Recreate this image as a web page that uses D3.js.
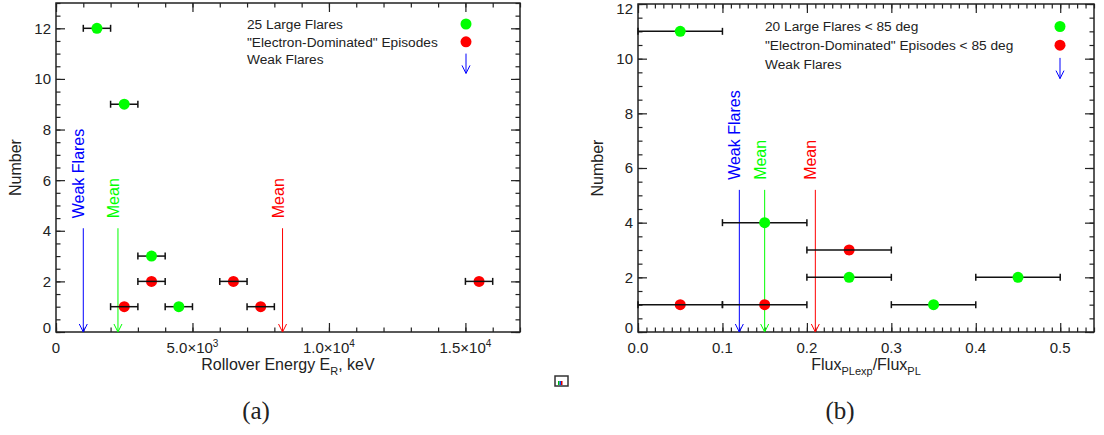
<!DOCTYPE html>
<html>
<head>
<meta charset="utf-8">
<title>Rollover energy and flux ratio</title>
<script src="https://d3js.org/d3.v7.min.js"></script>
<style>
	body { margin: 0; background: #fff; }
	text { font-family: "Liberation Sans", Arial, sans-serif; fill: #222; }
	.cap { font-family: "Liberation Serif", "DejaVu Serif", serif; }
</style>
</head>
<body>
<svg id="fig" width="1104" height="435"></svg>
<script>
// (a) rollover energy, keV
var aLargeE = [1500, 2500, 3500, 4500];
var aLargeN = [12, 9, 3, 1];
var aElecE = [2500, 3500, 6500, 7500, 15500];
var aElecN = [1, 2, 2, 1, 2];
var aHalfBin = 500;
var aMarkNames = ["Weak Flares", "Mean", "Mean"];
var aMarkVals = [1000, 2270, 8300];
var aMarkTop = 4.1;
var aXTicks = [0, 5000, 10000, 15000];
var aXTickLabels = [["0", ""], ["5.0\u00d710", "3"], ["1.0\u00d710", "4"], ["1.5\u00d710", "4"]];
var aYTicks = [0, 2, 4, 6, 8, 10, 12];
var aLegend = ["25 Large Flares", "\"Electron-Dominated\" Episodes", "Weak Flares"];

// (b) Flux_PLexp / Flux_PL
var bLargeR = [0.05, 0.15, 0.25, 0.35, 0.45];
var bLargeN = [11, 4, 2, 1, 2];
var bElecR = [0.05, 0.15, 0.25];
var bElecN = [1, 1, 3];
var bHalfBin = 0.05;
var bMarkNames = ["Weak Flares", "Mean", "Mean"];
var bMarkVals = [0.12, 0.15, 0.21];
var bMarkTop = 5.2;
var bXTicks = [0, 0.1, 0.2, 0.3, 0.4, 0.5];
var bXTickLabels = [["0.0", ""], ["0.1", ""], ["0.2", ""], ["0.3", ""], ["0.4", ""], ["0.5", ""]];
var bYTicks = [0, 2, 4, 6, 8, 10, 12];
var bLegend = ["20 Large Flares < 85 deg", "\"Electron-Dominated\" Episodes < 85 deg", "Weak Flares"];

var GREEN = "#00ff00", RED = "#ff0000", BLUE = "#0000ff";
var markColors = [BLUE, GREEN, RED];

var svg = d3.select("#fig");

function steps(max, step) {
	var n = Math.round(max / step);
	return d3.range(n + 1).map(function (i) { return +(i * step).toFixed(6); });
}

function drawPanel(p) {
	var x = d3.scaleLinear().domain([0, p.xMax]).range([p.left, p.right]);
	var y = d3.scaleLinear().domain([0, p.yMax]).range([p.bottom, p.top]);
	var g = svg.append("g");

	// inward ticks on all four sides
	function ticks(axis, tr) {
		g.append("g").attr("transform", tr).call(axis)
			.call(function (s) { s.select(".domain").remove(); s.selectAll("text").remove(); })
			.selectAll("line").attr("stroke", "#222").attr("stroke-width", 1.2);
	}
	var xMinor = steps(p.xMax, p.xMinorStep), yMinor = steps(p.yMax, 0.5);
	[[xMinor, 4.5], [p.xTicks, 9]].forEach(function (t) {
		ticks(d3.axisBottom(x).tickValues(t[0]).tickSize(-t[1]), "translate(0," + p.bottom + ")");
		ticks(d3.axisTop(x).tickValues(t[0]).tickSize(-t[1]), "translate(0," + p.top + ")");
	});
	[[yMinor, 4.5], [p.yTicks, 9]].forEach(function (t) {
		ticks(d3.axisLeft(y).tickValues(t[0]).tickSize(-t[1]), "translate(" + p.left + ",0)");
		ticks(d3.axisRight(y).tickValues(t[0]).tickSize(-t[1]), "translate(" + p.right + ",0)");
	});
	g.append("rect").attr("x", p.left).attr("y", p.top)
		.attr("width", p.right - p.left).attr("height", p.bottom - p.top)
		.attr("fill", "none").attr("stroke", "#222").attr("stroke-width", 1.5);

	// tick labels
	p.xTicks.forEach(function (v, i) {
		var t = g.append("text").attr("x", x(v)).attr("y", p.bottom + 21)
			.attr("text-anchor", "middle").style("font-size", "15px");
		t.append("tspan").text(p.xTickLabels[i][0]);
		if (p.xTickLabels[i][1]) t.append("tspan").attr("dy", -6).style("font-size", "10px").text(p.xTickLabels[i][1]);
	});
	p.yTicks.forEach(function (v) {
		var yy = Math.max(p.top + 4.5, Math.min(p.bottom - 4, y(v)));
		g.append("text").attr("x", p.left - 5).attr("y", yy).attr("dy", "0.36em")
			.attr("text-anchor", "end").style("font-size", "15px").text(v);
	});

	// axis titles
	g.append("text").attr("transform", "translate(" + (p.left - 35) + "," + ((p.top + p.bottom) / 2) + ") rotate(-90)")
		.attr("text-anchor", "middle").style("font-size", "16px").text("Number");
	var xt = g.append("text").attr("x", (p.left + p.right) / 2).attr("y", p.bottom + 38)
		.attr("text-anchor", "middle").style("font-size", "16px");
	p.xTitle.forEach(function (part) {
		var s = xt.append("tspan").text(part[0]);
		if (part[1] === "sub") s.attr("dy", 5).style("font-size", "11px");
		if (part[1] === "up") s.attr("dy", -5);
	});

	// marker arrows (means, weak flares)
	p.markVals.forEach(function (v, i) {
		var xx = x(v), y0 = y(0), y1 = y(p.markTop);
		g.append("line").attr("x1", xx).attr("x2", xx).attr("y1", y1).attr("y2", y0)
			.attr("stroke", markColors[i]).attr("stroke-width", 1);
		g.append("path").attr("d", "M" + (xx - 4) + "," + (y0 - 8) + "L" + xx + "," + y0 + "L" + (xx + 4) + "," + (y0 - 8))
			.attr("fill", "none").attr("stroke", markColors[i]).attr("stroke-width", 1);
		g.append("text").attr("transform", "translate(" + (xx + 1) + "," + (y1 - 10) + ") rotate(-90)")
			.style("font-size", "16px").style("fill", markColors[i]).text(p.markNames[i]);
	});

	// points with bin-width bars
	function errBar(v, n) {
		var yy = y(n), x0 = x(Math.max(0, v - p.half)), x1 = x(v + p.half);
		g.append("line").attr("x1", x0).attr("x2", x1).attr("y1", yy).attr("y2", yy)
			.attr("stroke", "#111").attr("stroke-width", 1.5);
		[x0, x1].forEach(function (c) {
			g.append("line").attr("x1", c).attr("x2", c).attr("y1", yy - 3.5).attr("y2", yy + 3.5)
				.attr("stroke", "#111").attr("stroke-width", 1.5);
		});
	}
	function dot(v, n, col) {
		g.append("circle").attr("cx", x(v)).attr("cy", y(n)).attr("r", 5.5).attr("fill", col);
	}
	p.largeX.forEach(function (v, i) { errBar(v, p.largeN[i]); dot(v, p.largeN[i], GREEN); });
	p.elecX.forEach(function (v, i) { dot(v, p.elecN[i], RED); errBar(v, p.elecN[i]); });

	// legend
	var L = p.legend;
	L.text.forEach(function (s, i) {
		g.append("text").attr("x", L.x).attr("y", L.y + i * L.dy).attr("dy", "0.35em")
			.style("font-size", "13.7px").text(s);
	});
	g.append("circle").attr("cx", L.sx).attr("cy", L.y).attr("r", 5.5).attr("fill", GREEN);
	g.append("circle").attr("cx", L.sx).attr("cy", L.y + L.dy).attr("r", 5.5).attr("fill", RED);
	var ay0 = L.y + 2 * L.dy - 6, ay1 = ay0 + L.dy + 2;
	g.append("line").attr("x1", L.sx).attr("x2", L.sx).attr("y1", ay0).attr("y2", ay1)
		.attr("stroke", BLUE).attr("stroke-width", 1);
	g.append("path").attr("d", "M" + (L.sx - 4) + "," + (ay1 - 8) + "L" + L.sx + "," + ay1 + "L" + (L.sx + 4) + "," + (ay1 - 8))
		.attr("fill", "none").attr("stroke", BLUE).attr("stroke-width", 1);

	svg.append("text").attr("class", "cap").attr("x", p.capX).attr("y", 419)
		.attr("text-anchor", "middle").style("font-size", "25px").text(p.caption);
}

drawPanel({
	left: 56, right: 520, top: 3, bottom: 332, xMax: 17000, yMax: 13, xMinorStep: 1000,
	xTicks: aXTicks, xTickLabels: aXTickLabels, yTicks: aYTicks,
	xTitle: [["Rollover Energy E"], ["R", "sub"], [", keV", "up"]],
	markVals: aMarkVals, markNames: aMarkNames, markTop: aMarkTop,
	largeX: aLargeE, largeN: aLargeN, elecX: aElecE, elecN: aElecN, half: aHalfBin,
	legend: { text: aLegend, x: 247, y: 24, dy: 17.8, sx: 466 },
	caption: "(a)", capX: 256
});

drawPanel({
	left: 638, right: 1094, top: 4, bottom: 332, xMax: 0.54, yMax: 12, xMinorStep: 0.01,
	xTicks: bXTicks, xTickLabels: bXTickLabels, yTicks: bYTicks,
	xTitle: [["Flux"], ["PLexp", "sub"], ["/Flux", "up"], ["PL", "sub"]],
	markVals: bMarkVals, markNames: bMarkNames, markTop: bMarkTop,
	largeX: bLargeR, largeN: bLargeN, elecX: bElecR, elecN: bElecN, half: bHalfBin,
	legend: { text: bLegend, x: 765, y: 26.5, dy: 18.7, sx: 1060 },
	caption: "(b)", capX: 840
});

// small window glyph between the panels
var ic = svg.append("g").attr("transform", "translate(555,376)");
ic.append("rect").attr("width", 13).attr("height", 10).attr("fill", "#fff").attr("stroke", "#333").attr("stroke-width", 1.5);
[["#00c000", 3], ["#0050ff", 4.5], ["#e00000", 6]].forEach(function (c) {
	ic.append("rect").attr("x", c[1]).attr("y", 5).attr("width", 1.5).attr("height", 4).attr("fill", c[0]);
});
</script>
</body>
</html>
